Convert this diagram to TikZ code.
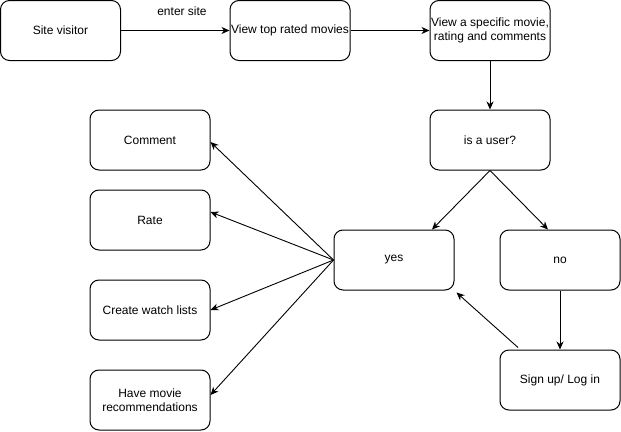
\documentclass[tikz,border=0pt]{standalone}
\usepackage{fontspec}
\setmainfont{Liberation Sans}
\usetikzlibrary{arrows.meta}
\begin{document}
\begin{tikzpicture}[x=1pt,y=-1pt,
  box/.style={draw=black,fill=white,line width=1pt,rounded corners=9pt,minimum width=120pt,minimum height=60pt,inner sep=0pt,align=center,font=\fontsize{12}{14}\selectfont},
  arr/.style={line width=0.9pt,-{Stealth[length=8pt,width=7pt,inset=2.5pt]}},
  lbl/.style={font=\fontsize{12}{14}\selectfont,inner sep=0pt}]
\useasboundingbox (0,0) rectangle (621,431);
\node[box] (sv) at (60.5,30.5) {Site visitor};
\node[box] (vt) at (290,30.5) {View top rated movies};
\node[box] (vs) at (490,30.5) {View a specific movie,\\rating and comments};
\node[box] (iu) at (490,140) {is a user?};
\node[box] (yes) at (394,260) {yes};
\node[box] (no) at (560,260) {no};
\node[box] (su) at (560,380) {Sign up/ Log in};
\node[box] (cm) at (150,140) {Comment};
\node[box] (rt) at (150,220) {Rate};
\node[box] (cw) at (150,310) {Create watch lists};
\node[box] (hm) at (150,400) {Have movie\\recommendations};
\node[lbl] (es) at (182,11) {enter site};
\draw[arr] (sv.east) -- (vt.west);
\draw[arr] (vt.east) -- (vs.west);
\draw[arr] (vs.south) -- (iu.north);
\draw[arr] (iu.south) -- ([xshift=38pt]yes.north);
\draw[arr] (iu.south) -- ([xshift=-12pt]no.north);
\draw[arr] (no.south) -- (su.north);
\draw[arr] ([xshift=-42pt,yshift=2pt]su.north) -- ([xshift=2pt,yshift=-2pt]yes.south east);
\draw[arr] (yes.west) -- ([yshift=-2pt]cm.east);
\draw[arr] (yes.west) -- ([yshift=8pt]rt.east);
\draw[arr] (yes.west) -- (cw.east);
\draw[arr] (yes.west) -- ([yshift=5pt]hm.east);
\end{tikzpicture}
\end{document}
